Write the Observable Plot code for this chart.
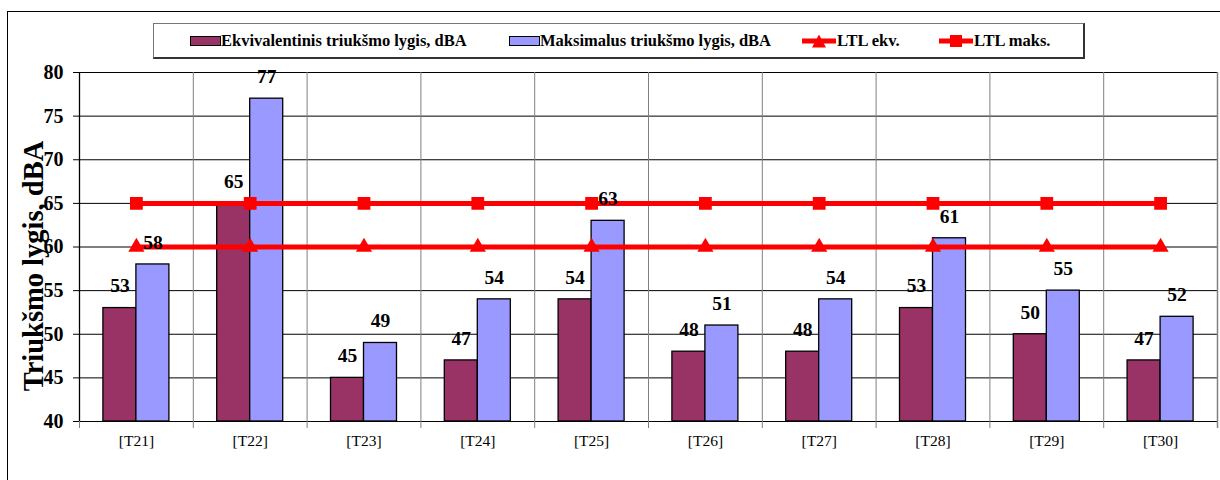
<!DOCTYPE html>
<html>
<head>
<meta charset="utf-8">
<script src="https://cdn.jsdelivr.net/npm/d3@7"></script>
<script src="https://cdn.jsdelivr.net/npm/@observablehq/plot@0.6"></script>
<style>
  html, body { margin: 0; padding: 0; background: #fff; }
  #wrap { position: relative; width: 1220px; height: 480px; overflow: hidden; font-family: 'Liberation Serif', 'Times New Roman', serif; }
  #frame { position: absolute; left: 7px; top: 11px; width: 1240px; height: 500px; border: 1px solid #000; box-sizing: border-box; }
  #chart { position: absolute; left: 0; top: 0; }
  #legend { position: absolute; left: 153px; top: 23px; width: 932px; height: 36px; border: 1px solid #777; border-bottom: 2px solid #333; border-right: 2px solid #333; box-sizing: border-box; background: #fff;
            font-family: 'Liberation Serif', serif; font-weight: bold; font-size: 16.5px; color: #000; }
  .item { position: absolute; display: flex; align-items: center; top: 0; height: 33px; }
  .sw { width: 29px; height: 8px; border: 1.5px solid #000; box-sizing: content-box; margin-right: 0px; }
  .mk { position: relative; width: 34px; height: 14px; margin-right: 1px; }
</style>
</head>
<body>
<div id="wrap">
  <div id="frame"></div>
  <div id="chart"></div>
  <div id="legend"></div>
</div>
<script>
const categories = ["[T21]","[T22]","[T23]","[T24]","[T25]","[T26]","[T27]","[T28]","[T29]","[T30]"];
const equivalent = [53, 65, 45, 47, 54, 48, 48, 53, 50, 47];
const maximum    = [58, 77, 49, 54, 63, 51, 54, 61, 55, 52];
const ltlEq      = [60, 60, 60, 60, 60, 60, 60, 60, 60, 60];
const ltlMax     = [65, 65, 65, 65, 65, 65, 65, 65, 65, 65];
const seriesNames = ["Ekvivalentinis triukšmo lygis, dBA", "Maksimalus triukšmo lygis, dBA", "LTL ekv.", "LTL maks."];
const yTicks = [40, 45, 50, 55, 60, 65, 70, 75, 80];
const yTitle = "Triukšmo lygis, dBA";

const colEq = "#993366", colMax = "#9999FF", colRed = "#FF0000";

const W = 1220, H = 480, mL = 79, mR = 3, mT = 72, mB = 59;
const bw = (W - mL - mR) / categories.length;
const barW = 33;

const rows = categories.map((c, i) => ({c, eq: equivalent[i], mx: maximum[i], le: ltlEq[i], lm: ltlMax[i]}));

const chart = Plot.plot({
  width: W, height: H,
  marginLeft: mL, marginRight: mR, marginTop: mT, marginBottom: mB,
  style: {fontFamily: "'Liberation Serif', serif", background: "transparent", overflow: "visible"},
  x: {type: "band", domain: categories, padding: 0, round: false, label: null},
  y: {domain: [40, 80], label: null},
  marks: [
    Plot.ruleY(yTicks, {stroke: "#000", strokeWidth: 1}),
    Plot.ruleX(categories, {x: d => d, dx: -bw / 2, stroke: "#808080", strokeWidth: 1, insetBottom: -7}),
    Plot.ruleX(categories.slice(-1), {x: d => d, dx: bw / 2, stroke: "#808080", strokeWidth: 1.5, insetBottom: -7}),
    Plot.barY(rows, {x: "c", y1: 40, y2: "eq", fill: colEq, stroke: "#000", strokeWidth: 1.3,
      insetLeft: bw / 2 - barW, insetRight: bw / 2}),
    Plot.barY(rows, {x: "c", y1: 40, y2: "mx", fill: colMax, stroke: "#000", strokeWidth: 1.3,
      insetLeft: bw / 2, insetRight: bw / 2 - barW}),
    Plot.ruleX([categories[0]], {x: d => d, dx: -bw / 2, stroke: "#000", strokeWidth: 1.3}),
    Plot.line(rows, {x: "c", y: "lm", stroke: colRed, strokeWidth: 5}),
    Plot.line(rows, {x: "c", y: "le", stroke: colRed, strokeWidth: 5}),
    Plot.dot(rows, {x: "c", y: "lm", symbol: "square", r: 7.2, fill: colRed, stroke: "none"}),
    Plot.dot(rows, {x: "c", y: "le", symbol: "triangle", r: 6, fill: colRed, stroke: "none"}),
    Plot.text(rows, {x: "c", y: "eq", text: d => String(d.eq), dx: -barW / 2, dy: -22,
      fontSize: 19.5, fontWeight: "bold", fill: "#000"}),
    Plot.text(rows, {x: "c", y: "mx", text: d => String(d.mx), dx: barW / 2, dy: -22,
      fontSize: 19.5, fontWeight: "bold", fill: "#000"}),
    Plot.axisY(yTicks, {tickSize: 6, tickPadding: 10, fontSize: 20, fontWeight: "bold", label: null, stroke: "#000"}),
    Plot.axisX({tickSize: 0, tickPadding: 13, fontSize: 15.5, label: null}),
    Plot.text([yTitle], {frameAnchor: "left", textAnchor: "middle", lineAnchor: "middle", dx: -46, dy: 19, rotate: -90,
      fontSize: 28.5, fontWeight: "bold", fill: "#000"})
  ]
});
document.getElementById("chart").appendChild(chart);

const legend = document.getElementById("legend");
const items = [
  {left: 36, kind: "sw", color: colEq},
  {left: 355, kind: "sw", color: colMax},
  {left: 648, kind: "tri"},
  {left: 785, kind: "sq"}
];
items.forEach((it, i) => {
  const d = document.createElement("div");
  d.className = "item";
  d.style.left = it.left + "px";
  let mk;
  if (it.kind === "sw") {
    mk = `<div class="sw" style="background:${it.color}"></div>`;
  } else {
    const shape = it.kind === "tri"
      ? `<polygon points="17,0.5 24,13.5 10,13.5" fill="${colRed}"/>`
      : `<rect x="11" y="1" width="12" height="12" fill="${colRed}"/>`;
    mk = `<svg class="mk" width="34" height="14" viewBox="0 0 34 14"><line x1="0" y1="7" x2="34" y2="7" stroke="${colRed}" stroke-width="5"/>${shape}</svg>`;
  }
  d.innerHTML = mk + `<span>${seriesNames[i]}</span>`;
  legend.appendChild(d);
});
</script>
</body>
</html>
